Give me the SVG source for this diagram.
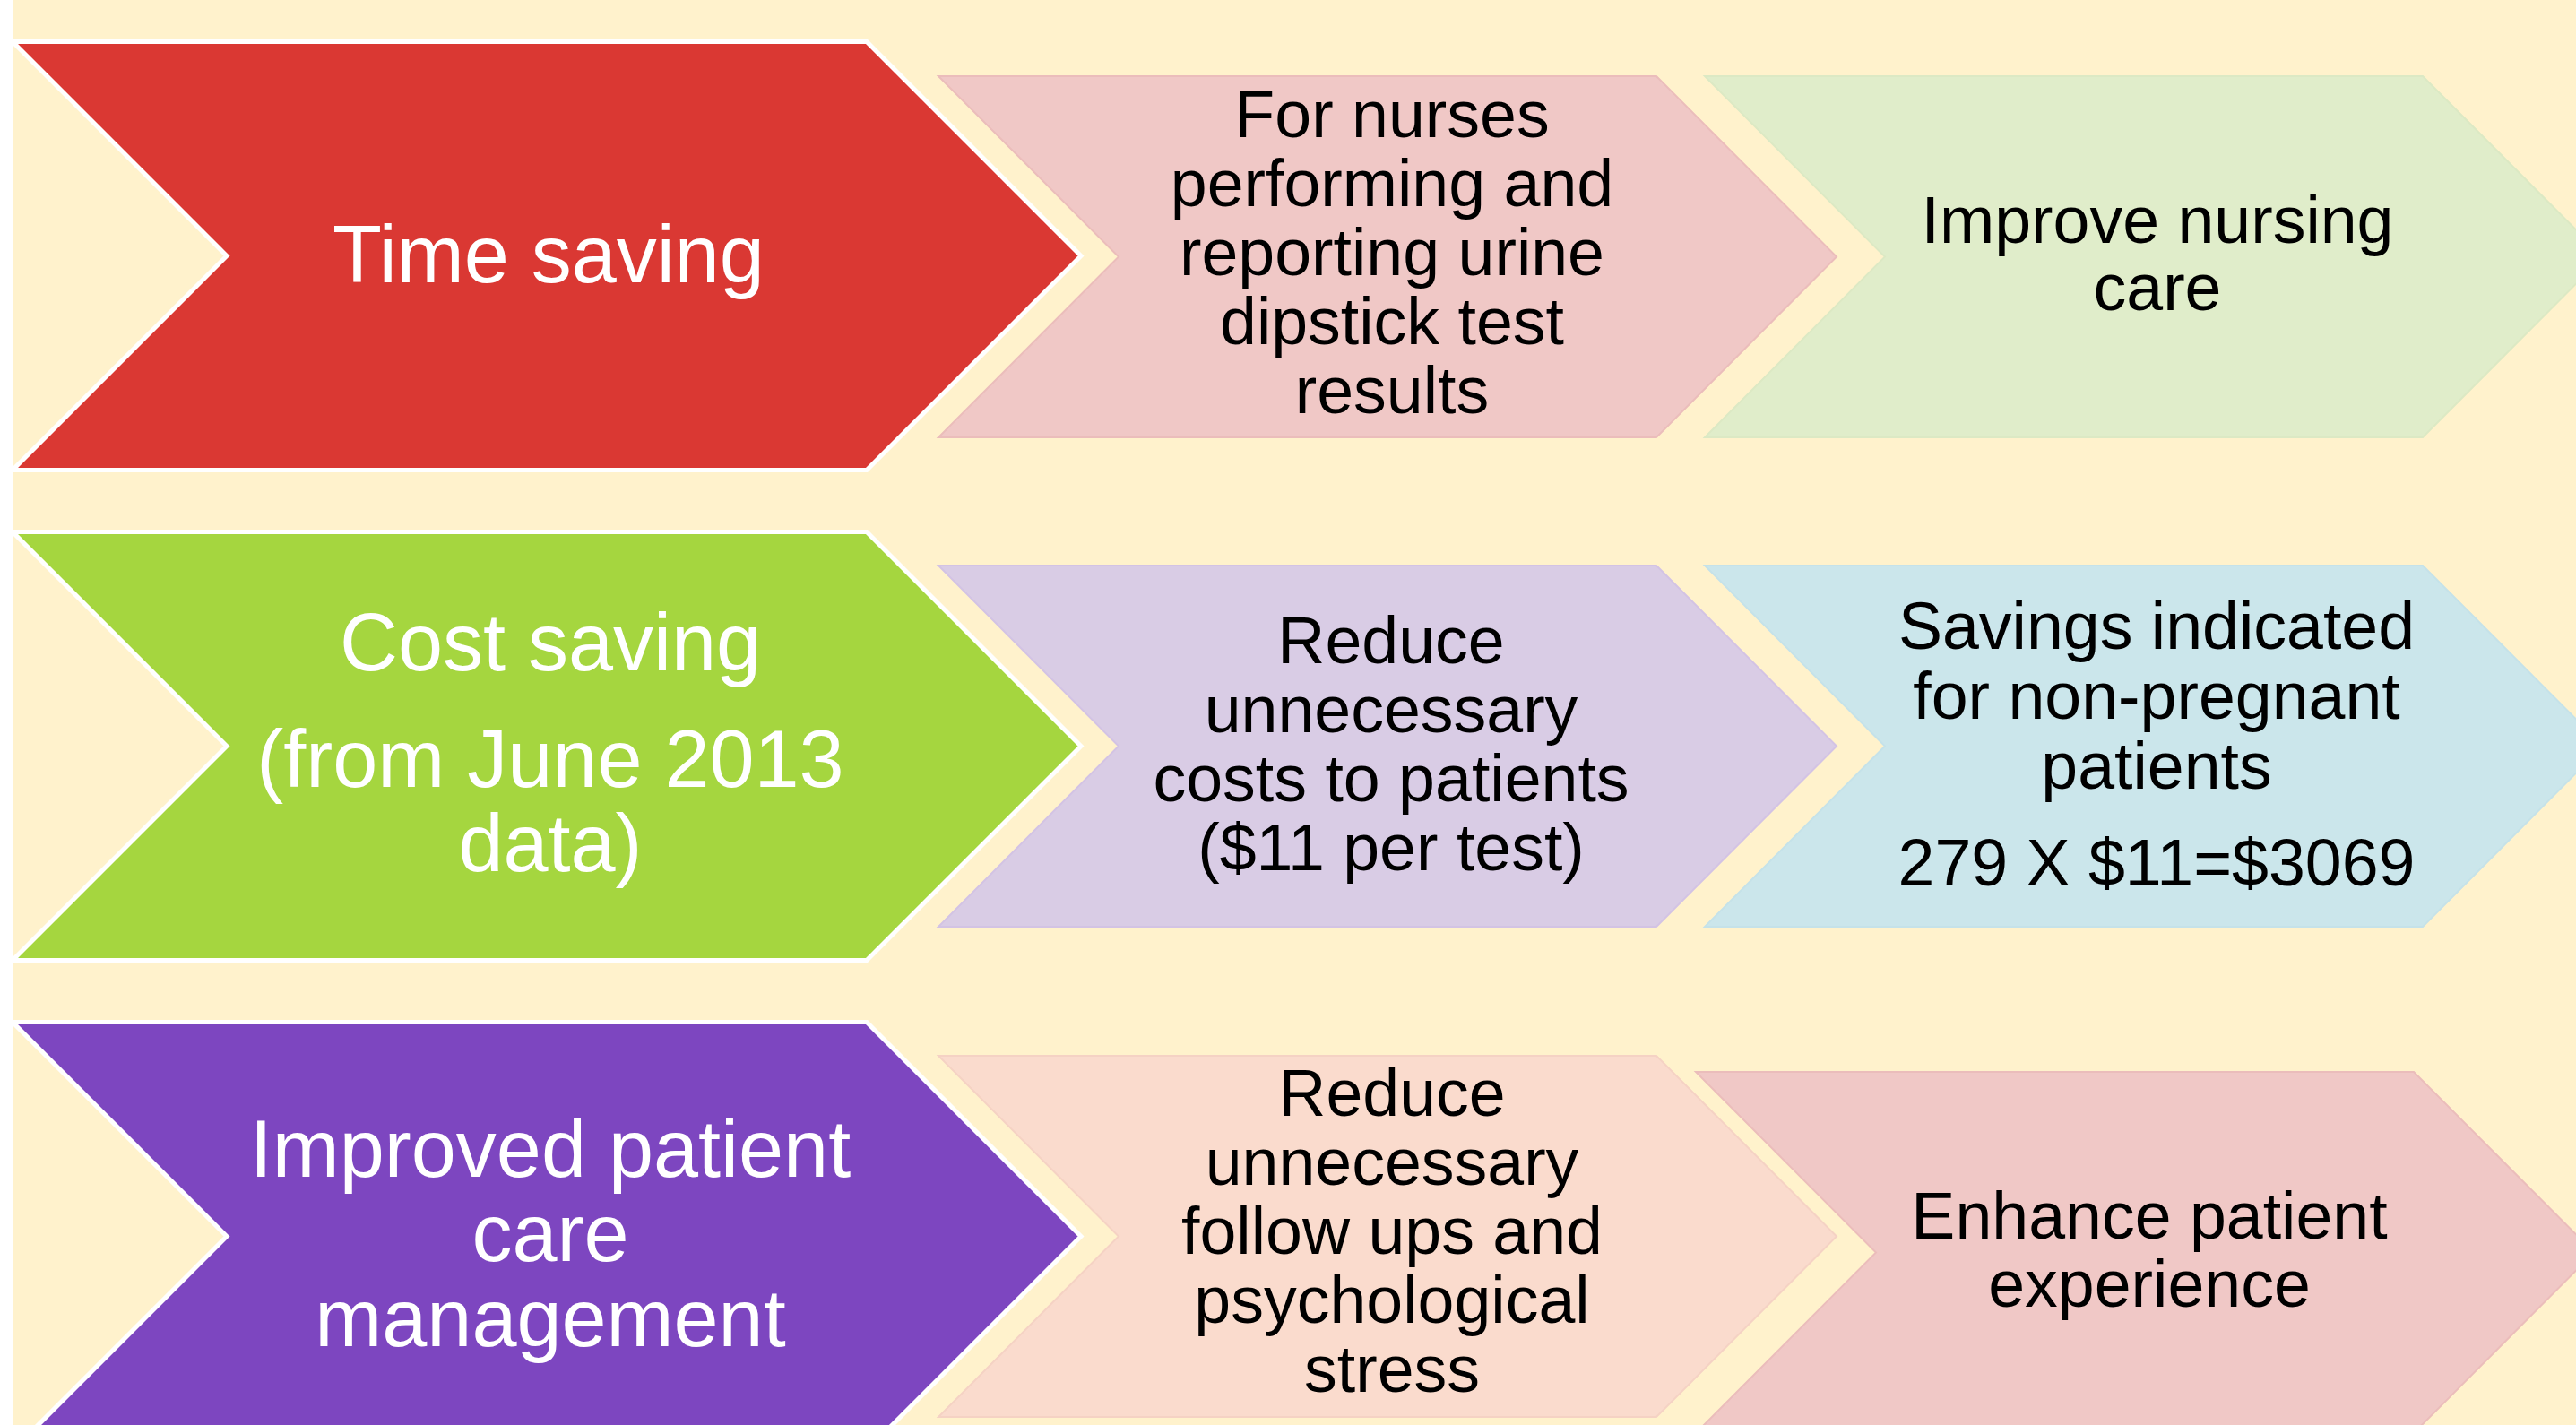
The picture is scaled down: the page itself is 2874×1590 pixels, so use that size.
<svg xmlns="http://www.w3.org/2000/svg" width="2874" height="1590" viewBox="0 0 2874 1590">
  <defs>
    <style>
      .bg { fill: #FFF2CC; }
      .big { stroke: #FFFFFF; stroke-width: 5; stroke-linejoin: miter; }
      .mid { stroke-width: 2; }
      .red { fill: #DA3833; }
      .lime { fill: #A5D63F; }
      .violet { fill: #7D46C0; }
      .rose { fill: #F0C8C6; stroke: #EBBDBB; }
      .mint { fill: #E0EDCA; stroke: #DCE9C4; }
      .lilac { fill: #D9CCE5; stroke: #D3C3E4; }
      .sky { fill: #CBE6EB; stroke: #C5E2E9; }
      .peach { fill: #FADBCD; stroke: #F5D2C4; }
      .lt { font-family: "Liberation Sans", Arial, sans-serif; font-size: 90px; fill: #FFFFFF; text-anchor: middle; }
      .st { font-family: "Liberation Sans", Arial, sans-serif; font-size: 73.5px; fill: #000000; text-anchor: middle; }
    </style>
    <!-- large chevron, top edge at y=0 -->
    <path id="chevBig" d="M14,0 L967,0 L1206,239 L967,478 L14,478 L253,239 Z"/>
    <!-- small chevron, top-left corner at 0,0 -->
    <path id="chevSmall" d="M0,0 L801,0 L1002,201.5 L801,403 L0,403 L201,201.5 Z"/>
  </defs>

  <rect x="0" y="0" width="2874" height="1590" fill="#FFFFFF"/>
  <rect class="bg" x="15" y="0" width="2859" height="1590"/>

  <!-- Row 1: time saving -->
  <g id="time-saving">
    <use href="#chevBig" class="big red" transform="translate(0,46.5)"/>
    <text class="lt" x="612" y="315">Time saving</text>
  </g>
  <g id="nurses-dipstick">
    <use href="#chevSmall" class="mid rose" transform="translate(1047,85)"/>
    <text class="st" x="1553" y="153">For nurses</text>
    <text class="st" x="1553" y="230">performing and</text>
    <text class="st" x="1553" y="307">reporting urine</text>
    <text class="st" x="1553" y="384">dipstick test</text>
    <text class="st" x="1553" y="461">results</text>
  </g>
  <g id="improve-nursing">
    <use href="#chevSmall" class="mid mint" transform="translate(1902,85)"/>
    <text class="st" x="2407" y="271">Improve nursing</text>
    <text class="st" x="2407" y="346">care</text>
  </g>

  <!-- Row 2: cost saving -->
  <g id="cost-saving">
    <use href="#chevBig" class="big lime" transform="translate(0,593.5)"/>
    <text class="lt" x="614" y="748">Cost saving</text>
    <text class="lt" x="614" y="878">(from June 2013</text>
    <text class="lt" x="614" y="972">data)</text>
  </g>
  <g id="reduce-costs">
    <use href="#chevSmall" class="mid lilac" transform="translate(1047,631)"/>
    <text class="st" x="1552" y="740">Reduce</text>
    <text class="st" x="1552" y="817">unnecessary</text>
    <text class="st" x="1552" y="894">costs to patients</text>
    <text class="st" x="1552" y="971">($11 per test)</text>
  </g>
  <g id="savings-indicated">
    <use href="#chevSmall" class="mid sky" transform="translate(1902,631)"/>
    <text class="st" x="2406" y="724">Savings indicated</text>
    <text class="st" x="2406" y="802">for non-pregnant</text>
    <text class="st" x="2406" y="880">patients</text>
    <text class="st" x="2406" y="988">279 X $11=$3069</text>
  </g>

  <!-- Row 3: patient care management -->
  <g id="patient-care">
    <use href="#chevBig" class="big violet" transform="translate(0,1140.5)"/>
    <text class="lt" x="614" y="1313">Improved patient</text>
    <text class="lt" x="614" y="1407">care</text>
    <text class="lt" x="614" y="1502">management</text>
  </g>
  <g id="reduce-follow-ups">
    <use href="#chevSmall" class="mid peach" transform="translate(1047,1178)"/>
    <text class="st" x="1553" y="1245">Reduce</text>
    <text class="st" x="1553" y="1322">unnecessary</text>
    <text class="st" x="1553" y="1399">follow ups and</text>
    <text class="st" x="1553" y="1476">psychological</text>
    <text class="st" x="1553" y="1553">stress</text>
  </g>
  <g id="patient-experience">
    <use href="#chevSmall" class="mid rose" transform="translate(1892,1196)"/>
    <text class="st" x="2398" y="1382">Enhance patient</text>
    <text class="st" x="2398" y="1458">experience</text>
  </g>
</svg>
